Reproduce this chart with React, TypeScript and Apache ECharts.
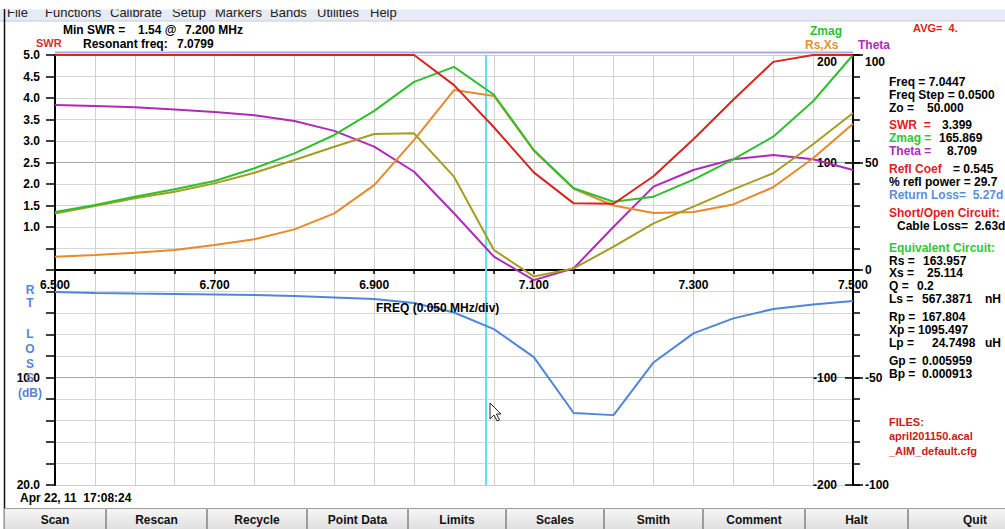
import React, { useEffect, useRef } from "react";
import * as echarts from "echarts";

// ---- data ----
const FREQS = [6.5, 6.55, 6.6, 6.65, 6.7, 6.75, 6.8, 6.85, 6.9, 6.95, 7.0, 7.05, 7.1, 7.15, 7.2, 7.25, 7.3, 7.35, 7.4, 7.45, 7.5];
const SWR = [5.0, 5.0, 5.0, 5.0, 5.0, 5.0, 5.0, 5.0, 5.0, 5.0, 4.3, 3.32, 2.27, 1.55, 1.54, 2.18, 3.04, 3.96, 4.84, 5.0, 5.0];
const ZMAG = [54, 60.5, 68.2, 75.1, 82.8, 94.6, 108.5, 125.6, 148, 175, 189, 163, 111.6, 76, 63.5, 68.2, 84, 103, 124, 157, 200];
const RS = [12.4, 14, 16.1, 18.6, 23.3, 28.6, 37.8, 52.7, 79, 121, 167.4, 161.9, 111, 75.5, 60, 53, 54, 61, 77, 104, 136];
const XS = [52.5, 59.5, 66.7, 72.8, 80.6, 90.5, 102.3, 114.7, 126.5, 127.1, 86.8, 18.6, -6, 1.5, 21.7, 43.4, 59, 75, 90, 117, 146];
const THETA = [76.7, 76.3, 75.7, 74.7, 73.5, 72, 69.3, 64.7, 57.4, 45.7, 26.4, 6.2, -4.7, 0.8, 20.1, 38.8, 46.5, 51.5, 53.5, 51.5, 46.5];
const RETURN_LOSS = [2.05, 2.14, 2.19, 2.23, 2.28, 2.33, 2.42, 2.56, 2.7, 3.07, 3.95, 5.5, 8.1, 13.3, 13.5, 8.6, 5.9, 4.5, 3.63, 3.21, 2.88];
const CURSOR_FREQ = 7.0447;

const X_LABELS = ["6.500", "6.700", "6.900", "7.100", "7.300", "7.500"];
const SWR_LABELS = ["1.0", "1.5", "2.0", "2.5", "3.0", "3.5", "4.0", "4.5", "5.0"];
const RL_LABELS = ["10.0", "20.0"];
const THETA_LABELS = ["100", "50", "0", "-50", "-100"];
const IMP_LABELS = ["200", "100", "-100", "-200"];

const MENU = ["File", "Functions", "Calibrate", "Setup", "Markers", "Bands", "Utilities", "Help"];
const MENU_X = [7, 45, 110, 172, 215, 270, 317, 370];
const BUTTONS = ["Scan", "Rescan", "Recycle", "Point Data", "Limits", "Scales", "Smith", "Comment", "Halt", "Quit"];
const BUTTON_EDGES = [4, 106, 207, 307, 408, 506, 604, 703, 805, 908, 1042];

const FONT = '"Liberation Sans", Arial, sans-serif';
const BOLD = `bold 12px ${FONT}`;
const NARROW = `bold 12px "Liberation Sans Narrow", "Arial Narrow", ${FONT}`;

const C = {
  swr: "#d5261f",
  zmag: "#2fc02f",
  rs: "#e88a2a",
  xs: "#a59d22",
  theta: "#b02ab8",
  rl: "#5086d8",
  cursor: "#5ce4ea",
};

function pairs(arr: number[]) {
  return FREQS.map((f, i) => [f, arr[i]]);
}

function txt(x: number, y: number, text: string, fill = "#000", extra: any = {}) {
  return {
    type: "text",
    x,
    y,
    silent: true,
    z: 50,
    style: { text, fill, font: BOLD, verticalAlign: "middle", align: "left", ...extra },
  };
}

function buildGraphic() {
  const g: any[] = [];
  // menu bar
  g.push({ type: "rect", shape: { x: 0, y: 9, width: 1005, height: 12 }, style: { fill: "#e7ebf5" }, silent: true, z: 1 });
  g.push({ type: "line", shape: { x1: 0, y1: 21, x2: 1005, y2: 21 }, style: { stroke: "#c6cbdc", lineWidth: 1 }, silent: true, z: 1 });
  MENU.forEach((m, i) => {
    g.push({ type: "text", x: MENU_X[i], y: 12.5, silent: true, z: 2, style: { text: m, fill: "#222", font: `13px ${FONT}`, verticalAlign: "middle" } });
  });
  g.push({ type: "rect", shape: { x: 0, y: 0, width: 1005, height: 9.5 }, style: { fill: "#fff" }, silent: true, z: 3 });
  // window left border
  g.push({ type: "line", shape: { x1: 4.5, y1: 9, x2: 4.5, y2: 529 }, style: { stroke: "#111", lineWidth: 1.5 }, silent: true, z: 3 });
  // top border of plot
  g.push({ type: "line", shape: { x1: 55, y1: 52.5, x2: 853, y2: 52.5 }, style: { stroke: "#a9a9dd", lineWidth: 2 }, silent: true, z: 0 });

  // header
  g.push(txt(63, 30, "Min SWR ="));
  g.push(txt(138, 30, "1.54 @"));
  g.push(txt(185, 30, "7.200 MHz"));
  g.push(txt(36, 43, "SWR", "#d53030", { font: `bold 11px ${FONT}` }));
  g.push(txt(83, 44, "Resonant freq:"));
  g.push(txt(177, 44, "7.0799"));
  g.push(txt(810, 31, "Zmag", C.zmag));
  g.push(txt(805, 45, "Rs,Xs", "#e0922e"));
  g.push(txt(858, 45, "Theta", C.theta));
  g.push(txt(913, 28, "AVG=  4.", "#e02020", { font: `bold 11px ${FONT}` }));

  // right info panel
  const L = 889;
  g.push(txt(L, 82, "Freq = 7.0447"));
  g.push(txt(L, 95, "Freq Step = 0.0500"));
  g.push(txt(L, 108, "Zo ="));
  g.push(txt(927, 108, "50.000"));
  g.push(txt(L, 125, "SWR  =", "#e02020"));
  g.push(txt(942, 125, "3.399"));
  g.push(txt(L, 138, "Zmag =", "#2ec82e"));
  g.push(txt(939, 138, "165.869"));
  g.push(txt(L, 151, "Theta =", C.theta));
  g.push(txt(947, 151, "8.709"));
  g.push(txt(L, 169, "Refl Coef", "#e02020"));
  g.push(txt(953, 169, "= 0.545"));
  g.push(txt(L, 182, "% refl power = 29.7"));
  g.push(txt(L, 195, "Return Loss=  5.27d", "#5b8ee0"));
  g.push(txt(L, 213, "Short/Open Circuit:", "#e02020"));
  g.push(txt(897, 226, "Cable Loss=  2.63d"));
  g.push(txt(L, 248, "Equivalent Circuit:", "#33c833"));
  g.push(txt(L, 261, "Rs ="));
  g.push(txt(923, 261, "163.957"));
  g.push(txt(L, 273, "Xs ="));
  g.push(txt(927, 273, "25.114"));
  g.push(txt(L, 286, "Q ="));
  g.push(txt(917, 286, "0.2"));
  g.push(txt(L, 299, "Ls ="));
  g.push(txt(922, 299, "567.3871"));
  g.push(txt(985, 299, "nH"));
  g.push(txt(L, 317, "Rp ="));
  g.push(txt(922, 317, "167.804"));
  g.push(txt(L, 330, "Xp ="));
  g.push(txt(918, 330, "1095.497"));
  g.push(txt(L, 343, "Lp ="));
  g.push(txt(932, 343, "24.7498"));
  g.push(txt(985, 343, "uH"));
  g.push(txt(L, 361, "Gp ="));
  g.push(txt(922, 361, "0.005959"));
  g.push(txt(L, 374, "Bp ="));
  g.push(txt(922, 374, "0.000913"));
  g.push(txt(L, 422, "FILES:", "#c42020", { font: `bold 11px ${FONT}` }));
  g.push(txt(L, 436, "april201150.acal", "#c42020", { font: `bold 11px ${FONT}` }));
  g.push(txt(L, 451, "_AIM_default.cfg", "#c42020", { font: `bold 11px ${FONT}` }));

  // vertical RTN LOSS label
  const letters = [["R", 290], ["T", 303], ["L", 334], ["O", 349], ["S", 364], ["S", 378], ["(dB)", 393]];
  letters.forEach(([t, y]) => g.push(txt(30, y as number, t as string, "#5a84d4", { align: "center" })));

  // frequency caption
  g.push(txt(376, 308, "FREQ (0.050 MHz/div)"));

  // date
  g.push(txt(20, 498, "Apr 22, 11  17:08:24", "#000", { font: NARROW }));

  // buttons
  BUTTONS.forEach((b, i) => {
    const x0 = BUTTON_EDGES[i];
    const x1 = BUTTON_EDGES[i + 1];
    g.push({
      type: "rect",
      silent: true,
      z: 5,
      shape: { x: x0 + 0.5, y: 508.5, width: x1 - x0 - 1, height: 22 },
      style: {
        fill: new echarts.graphic.LinearGradient(0, 0, 0, 1, [
          { offset: 0, color: "#f7f7f7" },
          { offset: 1, color: "#dedede" },
        ]),
        stroke: "#9c9c9c",
        lineWidth: 1,
      },
    });
    g.push({
      type: "text",
      silent: true,
      z: 6,
      x: i === BUTTONS.length - 1 ? 975 : (x0 + x1) / 2,
      y: 520,
      style: { text: b, fill: "#111", font: NARROW, align: "center", verticalAlign: "middle" },
    });
  });

  // mouse pointer
  g.push({
    type: "polygon",
    silent: true,
    z: 60,
    shape: { points: [[490, 403], [490, 419], [494, 415], [497, 421], [499.5, 420], [496.5, 414], [501, 414]] },
    style: { fill: "#fff", stroke: "#222", lineWidth: 1 },
  });
  return g;
}

function lineSeries(name: string, data: number[], color: string, yAxisIndex: number, extra: any = {}) {
  return {
    name,
    type: "line",
    data: pairs(data),
    xAxisIndex: 0,
    yAxisIndex,
    symbol: "none",
    showSymbol: false,
    lineStyle: { color, width: 2 },
    itemStyle: { color },
    z: 3,
    ...extra,
  };
}

export default function App() {
  const ref = useRef<HTMLDivElement>(null);
  useEffect(() => {
    const chart = echarts.init(ref.current!, null, { renderer: "svg" });
    const axisText = { color: "#000", fontWeight: "bold", fontSize: 12, fontFamily: FONT };
    const topRich = { t: { ...axisText, padding: [14, 0, 0, 0] } };
    const gridColors = ["#cfcfcf", "#d6d6d6", "#d6d6d6", "#d6d6d6", "#d6d6d6", "#a8a8a8", "#d6d6d6", "#d6d6d6", "#d6d6d6", "#d6d6d6"];
    const option: any = {
      animation: false,
      backgroundColor: "#fff",
      grid: [
        { left: 55, right: 152, top: 55, bottom: 44, containLabel: false },
        { left: 55, right: 152, top: 55, bottom: 259, containLabel: false },
      ],
      xAxis: [
        {
          type: "value",
          gridIndex: 0,
          min: 6.5,
          max: 7.5,
          interval: 0.05,
          axisLine: { show: false },
          axisTick: { show: false },
          axisLabel: { show: false },
          splitLine: { show: true, lineStyle: { color: "#d2d2d2", width: 1 } },
        },
        {
          type: "value",
          gridIndex: 1,
          position: "bottom",
          min: 6.5,
          max: 7.5,
          interval: 0.05,
          axisLine: { show: true, onZero: false, lineStyle: { color: "#000", width: 2 } },
          axisTick: { show: true, length: 4, lineStyle: { color: "#000", width: 1.5 } },
          axisLabel: {
            ...axisText,
            margin: 9,
            showMinLabel: true,
            showMaxLabel: true,
            formatter: (v: number) => {
              const s = v.toFixed(3);
              return X_LABELS.includes(s) ? s : "";
            },
          },
          splitLine: { show: false },
        },
      ],
      yAxis: [
        {
          type: "value",
          gridIndex: 0,
          position: "left",
          min: -5,
          max: 5,
          interval: 0.5,
          axisLine: { show: true, onZero: false, lineStyle: { color: "#000", width: 2 } },
          axisTick: { show: true, length: 9, lineStyle: { color: "#000", width: 1.5 } },
          axisLabel: {
            ...axisText,
            margin: 15,
            showMinLabel: true,
            showMaxLabel: true,
            formatter: (v: number) => {
              const s = v.toFixed(1);
              if (SWR_LABELS.includes(s)) return s;
              const rl = (-v * 4).toFixed(1);
              return RL_LABELS.includes(rl) ? rl : "";
            },
          },
          splitLine: { show: true, lineStyle: { color: gridColors, width: 1 } },
        },
        {
          type: "value",
          gridIndex: 0,
          min: -20,
          max: 20,
          inverse: true,
          show: false,
          splitLine: { show: false },
        },
        {
          type: "value",
          gridIndex: 0,
          position: "right",
          min: -100,
          max: 100,
          interval: 10,
          axisLine: { show: true, onZero: false, lineStyle: { color: "#000", width: 2 } },
          axisTick: { show: true, length: 7, lineStyle: { color: "#000", width: 1.5 } },
          axisLabel: {
            ...axisText,
            margin: 12,
            showMinLabel: true,
            showMaxLabel: true,
            rich: topRich,
            formatter: (v: number) => {
              const s = String(Math.round(v));
              if (s === THETA_LABELS[0]) return `{t|${s}}`;
              return THETA_LABELS.includes(s) ? s : "";
            },
          },
          splitLine: { show: false },
        },
        {
          type: "value",
          gridIndex: 0,
          position: "right",
          min: -100,
          max: 100,
          interval: 50,
          axisLine: { show: false, onZero: false },
          axisTick: { show: true, inside: true, length: 8, lineStyle: { color: "#000", width: 1.5 } },
          axisLabel: { show: false },
          splitLine: { show: false },
        },
        {
          type: "value",
          gridIndex: 0,
          position: "right",
          min: -100,
          max: 100,
          interval: 50,
          axisLine: { show: false, onZero: false },
          axisTick: { show: true, length: 10, lineStyle: { color: "#000", width: 1.5 } },
          axisLabel: { show: false },
          splitLine: { show: false },
        },
        {
          type: "value",
          gridIndex: 0,
          position: "right",
          min: -200,
          max: 200,
          interval: 100,
          axisLine: { show: false, onZero: false },
          axisTick: { show: false },
          axisLabel: {
            ...axisText,
            inside: true,
            margin: 16,
            showMinLabel: true,
            showMaxLabel: true,
            rich: topRich,
            formatter: (v: number) => {
              const s = String(Math.round(v));
              if (s === IMP_LABELS[0]) return `{t|${s}}`;
              return IMP_LABELS.includes(s) ? s : "";
            },
          },
          splitLine: { show: false },
        },
        {
          type: "value",
          gridIndex: 1,
          min: 0,
          max: 1,
          show: false,
          splitLine: { show: false },
        },
      ],
      series: [
        lineSeries("Theta", THETA, C.theta, 2),
        lineSeries("Rs", RS, C.rs, 5),
        lineSeries("Xs", XS, C.xs, 5),
        lineSeries("Zmag", ZMAG, C.zmag, 5),
        lineSeries("SWR", SWR, C.swr, 0, {
          markLine: {
            silent: true,
            symbol: ["none", "none"],
            label: { show: false },
            lineStyle: { color: C.cursor, width: 2, type: "solid" },
            data: [{ xAxis: CURSOR_FREQ }],
            z: 1,
          },
        }),
        lineSeries("Return Loss", RETURN_LOSS, C.rl, 1),
      ],
      graphic: buildGraphic(),
    };
    chart.setOption(option);
    return () => chart.dispose();
  }, []);
  return (
    <div
      ref={ref}
      style={{ position: "fixed", left: 0, top: 0, width: 1005, height: 529, background: "#fff" }}
    />
  );
}
